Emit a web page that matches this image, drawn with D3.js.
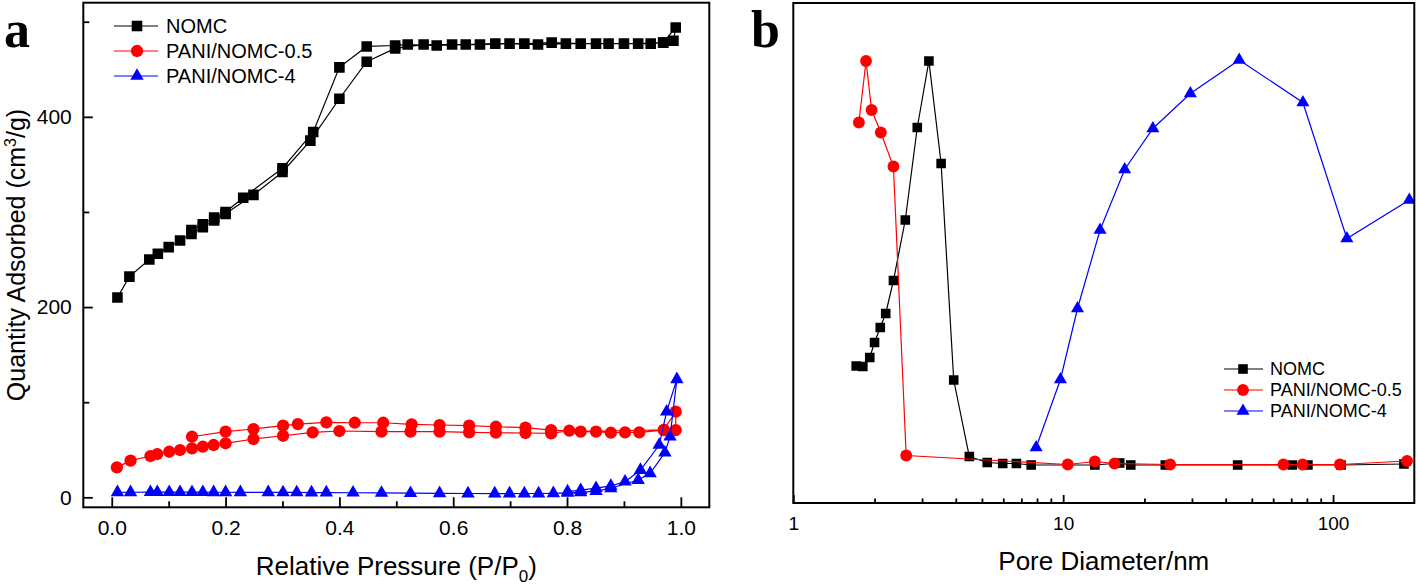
<!DOCTYPE html>
<html><head><meta charset="utf-8">
<script src="https://cdn.jsdelivr.net/npm/d3@7/dist/d3.min.js"></script>
<style>body{margin:0;background:#fff}svg{display:block}</style>
</head><body>
<svg id="chart" width="1418" height="586"></svg>
<script>
// ---------- Panel a: N2 isotherms (measurement order: adsorption then desorption) ----------
const seriesNames = ["NOMC", "PANI/NOMC-0.5", "PANI/NOMC-4"];

const nomcIsoX = [0.010,0.031,0.066,0.081,0.100,0.120,0.140,0.160,0.180,0.200,0.249,0.300,0.349,0.400,0.448,0.498,0.548,0.598,0.647,0.699,0.749,0.798,0.851,0.900,0.947,0.969,0.991,
                  0.987,0.969,0.925,0.873,0.824,0.773,0.725,0.674,0.622,0.571,0.520,0.498,0.448,0.400,0.354,0.300,0.231,0.200,0.180,0.160,0.140];
const nomcIsoY = [210,232,250,256,263,270,277,284,291,298,318,342,375,419,458,472,476,476,476,477,476,477,477,477,477,478,494,
                  480,478,477,477,477,478,477,477,476,475,476,475,474,452,384,346,315,300,294,287,281];

const pani05IsoX = [0.009,0.033,0.068,0.080,0.101,0.120,0.141,0.160,0.179,0.200,0.249,0.301,0.353,0.400,0.474,0.525,0.576,0.628,0.675,0.727,0.772,0.804,0.851,0.877,0.902,0.927,0.970,0.991,
                    0.991,0.970,0.824,0.772,0.727,0.675,0.628,0.576,0.527,0.477,0.427,0.377,0.327,0.301,0.249,0.200,0.141];
const pani05IsoY = [31.5,38.5,43.4,45.5,47.9,49.7,51.5,53.2,55.0,56.8,61.3,64.7,68.3,69.7,69.0,69.0,69.0,68.3,67.9,67.6,67.3,70.0,69.0,67.9,68.3,68.3,70.7,70.7,
                    90,71,69,70.7,73.2,74.2,75.3,76.0,76.7,78.4,78.4,78.8,77.0,75.3,71.8,69.0,63.7];

const pani4IsoX = [0.010,0.033,0.068,0.080,0.101,0.120,0.141,0.160,0.179,0.200,0.226,0.275,0.301,0.325,0.351,0.377,0.424,0.474,0.525,0.576,0.626,0.673,0.699,0.725,0.750,0.776,0.801,0.824,0.851,0.877,0.925,0.946,0.972,0.981,0.993,
                   0.975,0.962,0.929,0.902,0.877,0.851,0.824,0.801];
const pani4IsoY = [5.2,5.3,5.4,5.4,5.4,5.4,5.4,5.4,5.3,5.3,5.2,5.2,5.1,5.1,5.0,5.0,4.8,4.6,4.4,4.2,4.0,3.9,3.9,4.0,4.0,4.2,4.6,5.2,6.5,9.5,18.2,25.2,46.9,63.7,124,
                   90,55,28.7,16.4,12,9.6,7.5,6.0];

const aXMajorTicks = [0.0,0.2,0.4,0.6,0.8,1.0];
const aXMinorTicks = [0.1,0.3,0.5,0.7,0.9];
const aYMajorTicks = [0,200,400];
const aYMinorTicks = [100,300,500];

// ---------- Panel b: pore size distribution (arbitrary units) ----------
const nomcPsdX = [1.71,1.81,1.92,2.00,2.10,2.20,2.35,2.60,2.88,3.18,3.53,3.93,4.49,5.23,5.97,6.71,7.61,13.1,16.2,17.8,23.9,44.3,70.6,80.7,107,183];
const nomcPsdY = [0.274,0.273,0.291,0.321,0.351,0.379,0.445,0.566,0.751,0.884,0.679,0.246,0.093,0.081,0.079,0.079,0.076,0.076,0.080,0.076,0.076,0.076,0.076,0.076,0.076,0.078];

const pani05PsdX = [1.75,1.86,1.95,2.11,2.35,2.62,10.4,13.1,15.5,24.9,65.5,77.1,106,188];
const pani05PsdY = [0.761,0.884,0.786,0.741,0.673,0.095,0.077,0.083,0.079,0.077,0.077,0.077,0.077,0.084];

const pani4PsdX = [7.94,9.77,11.3,13.7,16.9,21.5,29.6,44.9,77.3,112.5,191.7];
const pani4PsdY = [0.111,0.247,0.389,0.546,0.667,0.749,0.819,0.886,0.801,0.529,0.606];

const bXMajorTicks = [1,10,100];
const bXMinorTicks = [2,3,4,5,6,7,8,9,20,30,40,50,60,70,80,90];

// ---------- styles ----------
const colors = ["#000000", "#ff0000", "#0000ff"];
const FONT = "'Liberation Sans', Arial, sans-serif";

const svg = d3.select("#chart");
svg.append("rect").attr("width",1418).attr("height",586).attr("fill","#fff");

function zip(xs, ys){ return xs.map((x,i)=>[x, ys[i]]); }

function symbolFor(i, big){
  if (i===0) return d3.symbol().type(d3.symbolSquare).size(big?112:92);
  if (i===1) return d3.symbol().type(d3.symbolCircle).size(big?118:110);
  return d3.symbol().type(d3.symbolTriangle).size(big?78:74);
}

function drawSeries(g, data, xs, ys, i, big){
  const line = d3.line().x(d=>xs(d[0])).y(d=>ys(d[1]));
  g.append("path").datum(data).attr("d", line).attr("fill","none")
    .attr("stroke", colors[i]).attr("stroke-width", 1.2);
  g.selectAll(null).data(data).enter().append("path")
    .attr("d", symbolFor(i, big)())
    .attr("transform", d=>`translate(${xs(d[0])},${ys(d[1])})`)
    .attr("fill", colors[i]);
}

function styleAxis(g, fs){
  g.select(".domain").remove();
  g.selectAll(".tick line").attr("stroke","#000").attr("stroke-width",1.8);
  g.selectAll(".tick text").attr("fill","#000").attr("font-family",FONT).attr("font-size",fs);
}

// ================= Panel a =================
const A = {l:83.3, r:709.3, t:2.7, b:507.3};
const xA = d3.scaleLinear().domain([-0.05,1.05]).range([A.l, A.r]);
const yA = d3.scaleLinear().domain([-10.5,520]).range([A.b, A.t]);
const gA = svg.append("g");

const gAx = gA.append("g").attr("transform",`translate(0,${A.b})`)
  .call(d3.axisBottom(xA).tickValues(aXMajorTicks).tickSize(-10).tickPadding(12.7).tickFormat(d3.format(".1f")));
styleAxis(gAx, 21);
const gAxm = gA.append("g").attr("transform",`translate(0,${A.b})`)
  .call(d3.axisBottom(xA).tickValues(aXMinorTicks).tickSize(-6).tickFormat(""));
styleAxis(gAxm, 21);
const gAy = gA.append("g").attr("transform",`translate(${A.l},0)`)
  .call(d3.axisLeft(yA).tickValues(aYMajorTicks).tickSize(-9.5).tickPadding(11.5));
styleAxis(gAy, 21);
const gAym = gA.append("g").attr("transform",`translate(${A.l},0)`)
  .call(d3.axisLeft(yA).tickValues(aYMinorTicks).tickSize(-6).tickFormat(""));
styleAxis(gAym, 21);

svg.append("clipPath").attr("id","clipA").append("rect")
  .attr("x",A.l).attr("y",A.t).attr("width",A.r-A.l).attr("height",A.b-A.t);
const plotA = gA.append("g").attr("clip-path","url(#clipA)");
drawSeries(plotA, zip(nomcIsoX, nomcIsoY), xA, yA, 0, true);
drawSeries(plotA, zip(pani05IsoX, pani05IsoY), xA, yA, 1, true);
drawSeries(plotA, zip(pani4IsoX, pani4IsoY), xA, yA, 2, true);

gA.append("rect").attr("x",A.l).attr("y",A.t).attr("width",A.r-A.l).attr("height",A.b-A.t)
  .attr("fill","none").attr("stroke","#000").attr("stroke-width",2);

// axis titles a
const xtA = gA.append("text").attr("x",(A.l+A.r)/2).attr("y",575).attr("text-anchor","middle")
  .attr("font-family",FONT).attr("font-size",26).attr("fill","#000");
xtA.append("tspan").text("Relative Pressure (P/P");
xtA.append("tspan").text("0").attr("font-size",17).attr("dy",7);
xtA.append("tspan").text(")").attr("dy",-7);

const ytA = gA.append("text").attr("transform",`translate(25,${(A.t+A.b)/2}) rotate(-90)`)
  .attr("text-anchor","middle").attr("font-family",FONT).attr("font-size",25).attr("fill","#000");
ytA.append("tspan").text("Quantity Adsorbed (cm");
ytA.append("tspan").text("3").attr("font-size",16).attr("dy",-9);
ytA.append("tspan").text("/g)").attr("dy",9);

// legend a
const legA = gA.append("g");
seriesNames.forEach((n,i)=>{
  const y = 26 + i*25;
  legA.append("line").attr("x1",114).attr("x2",158).attr("y1",y).attr("y2",y)
    .attr("stroke",colors[i]).attr("stroke-width",1.2);
  legA.append("path").attr("d",symbolFor(i,true)()).attr("transform",`translate(137,${y})`).attr("fill",colors[i]);
  legA.append("text").attr("x",166).attr("y",y).attr("dy","0.36em").text(n)
    .attr("font-family",FONT).attr("font-size",20).attr("fill","#000");
});

svg.append("text").attr("x",4).attr("y",46.5).text("a")
  .attr("font-family","'Liberation Serif','Times New Roman',serif").attr("font-weight","bold")
  .attr("font-size",52).attr("fill","#000");

// ================= Panel b =================
const B = {l:793.3, r:1414.3, t:3, b:503};
const xB = d3.scaleLog().domain([1,200]).range([B.l, B.r]);
const yB = d3.scaleLinear().domain([0,1]).range([B.b, B.t]);
const gB = svg.append("g");

const gBx = gB.append("g").attr("transform",`translate(0,${B.b})`)
  .call(d3.axisBottom(xB).tickValues(bXMajorTicks).tickSize(-8).tickPadding(13.7).tickFormat(d3.format("d")));
styleAxis(gBx, 19);
const gBxm = gB.append("g").attr("transform",`translate(0,${B.b})`)
  .call(d3.axisBottom(xB).tickValues(bXMinorTicks).tickSize(-4.5).tickFormat(""));
styleAxis(gBxm, 19);

svg.append("clipPath").attr("id","clipB").append("rect")
  .attr("x",B.l).attr("y",B.t).attr("width",B.r-B.l).attr("height",B.b-B.t);
const plotB = gB.append("g").attr("clip-path","url(#clipB)");
drawSeries(plotB, zip(nomcPsdX, nomcPsdY), xB, yB, 0, false);
drawSeries(plotB, zip(pani05PsdX, pani05PsdY), xB, yB, 1, false);
drawSeries(plotB, zip(pani4PsdX, pani4PsdY), xB, yB, 2, false);

gB.append("rect").attr("x",B.l).attr("y",B.t).attr("width",B.r-B.l).attr("height",B.b-B.t)
  .attr("fill","none").attr("stroke","#000").attr("stroke-width",2);

gB.append("text").attr("x",(B.l+B.r)/2).attr("y",570).attr("text-anchor","middle")
  .attr("font-family",FONT).attr("font-size",26).attr("fill","#000").text("Pore Diameter/nm");

const legB = gB.append("g");
seriesNames.forEach((n,i)=>{
  const y = 369 + i*21;
  legB.append("line").attr("x1",1224).attr("x2",1263).attr("y1",y).attr("y2",y)
    .attr("stroke",colors[i]).attr("stroke-width",1.2);
  legB.append("path").attr("d",symbolFor(i,false)()).attr("transform",`translate(1243,${y})`).attr("fill",colors[i]);
  legB.append("text").attr("x",1270).attr("y",y).attr("dy","0.36em").text(n)
    .attr("font-family",FONT).attr("font-size",18).attr("fill","#000");
});

svg.append("text").attr("x",751).attr("y",46.5).text("b")
  .attr("font-family","'Liberation Serif','Times New Roman',serif").attr("font-weight","bold")
  .attr("font-size",52).attr("fill","#000");
</script>
</body></html>
